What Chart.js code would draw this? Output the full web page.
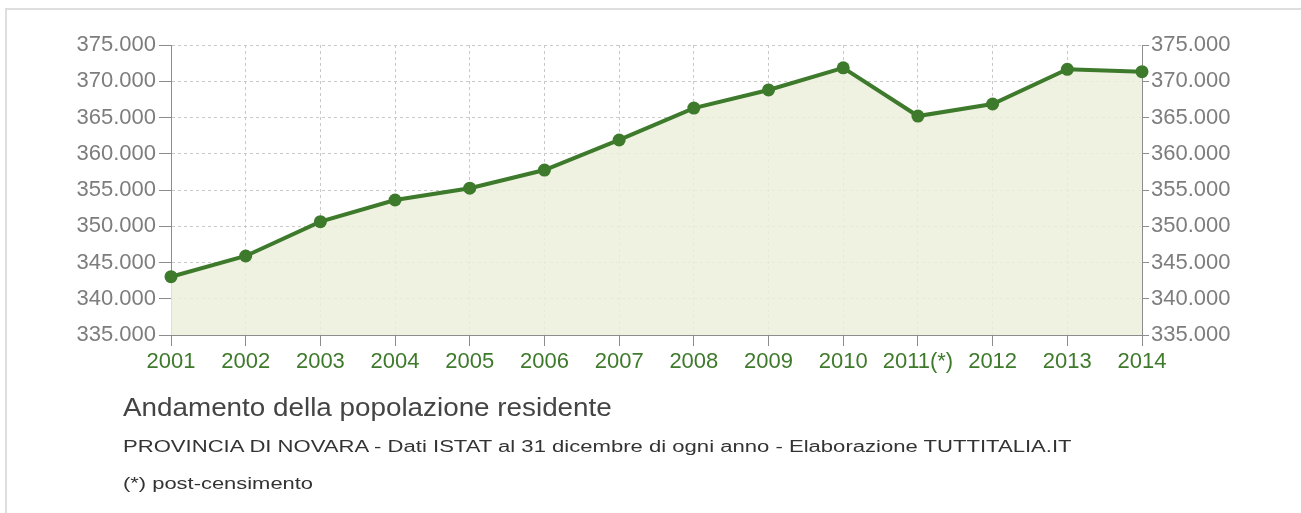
<!DOCTYPE html>
<html>
<head>
<meta charset="utf-8">
<script src="https://cdn.jsdelivr.net/npm/chart.js@4/dist/chart.umd.min.js"></script>
<style>
  html, body { margin: 0; padding: 0; background: #fff; }
  #wrap { position: relative; width: 1301px; height: 513px; overflow: hidden; font-family: "Liberation Sans", Arial, sans-serif; }
  #frame { position: absolute; left: 5px; top: 8px; right: -10px; bottom: -10px; border-top: 2px solid #dedede; border-left: 2px solid #dedede; }
  canvas { position: absolute; left: 0; top: 0; }
  .txt { position: absolute; left: 123px; white-space: nowrap; line-height: 1; transform-origin: 0 0; }
  #t1 { top: 394px; font-size: 26px; color: #444; transform: scaleX(1.07); }
  #t2 { top: 439px; font-size: 16px; color: #333; transform: scaleX(1.38); }
  #t3 { top: 476px; font-size: 16px; color: #333; transform: scaleX(1.37); }
</style>
</head>
<body>
<div id="wrap">
  <div id="frame"></div>
  <canvas id="c" width="1301" height="513"></canvas>
  <div class="txt" id="t1">Andamento della popolazione residente</div>
  <div class="txt" id="t2">PROVINCIA DI NOVARA - Dati ISTAT al 31 dicembre di ogni anno - Elaborazione TUTTITALIA.IT</div>
  <div class="txt" id="t3">(*) post-censimento</div>
</div>
<script>
const years = ["2001","2002","2003","2004","2005","2006","2007","2008","2009","2010","2011(*)","2012","2013","2014"];
const population = [343040, 345900, 350630, 353620, 355250, 357750, 361900, 366300, 368800, 371850, 365200, 366860, 371650, 371320];
const yMin = 335000;
const yMax = 375000;
const yStep = 5000;

function fmt(v) {
  return String(Math.round(v)).replace(/\B(?=(\d{3})+(?!\d))/g, ".");
}

const green = "#3e7a2b";
const gridColor = "#c9c9c9";
const axisColor = "#8c8c8c";
const labelGray = "#7d7d7d";
const font = { family: "'Liberation Sans', Arial, sans-serif", size: 22 };

new Chart(document.getElementById("c"), {
  type: "line",
  data: {
    labels: years,
    datasets: [{
      data: population,
      borderColor: green,
      backgroundColor: "rgba(236,239,220,0.85)",
      borderWidth: 4,
      pointRadius: 6.5,
      pointBackgroundColor: green,
      pointBorderColor: green,
      pointBorderWidth: 0,
      fill: "start",
      tension: 0,
      clip: false
    }]
  },
  options: {
    responsive: false,
    animation: false,
    events: [],
    layout: { padding: { top: 45, left: 0, right: 0, bottom: 0 } },
    plugins: { legend: { display: false }, tooltip: { enabled: false } },
    scales: {
      x: {
        type: "category",
        offset: false,
        grid: { color: gridColor, lineWidth: 1, borderDash: [3, 3], tickLength: 11, tickColor: axisColor, tickWidth: 1, tickBorderDash: [] },
        border: { display: true, color: axisColor, width: 1, dash: [3, 3] },
        ticks: { color: green, font: font, padding: 3, maxRotation: 0, autoSkip: false },
        afterFit: s => { s.height = 178; }
      },
      y: {
        position: "left",
        min: yMin, max: yMax,
        grid: { color: gridColor, lineWidth: 1, borderDash: [3, 3], tickLength: 12, tickColor: axisColor, tickWidth: 1, tickBorderDash: [] },
        border: { display: true, color: axisColor, width: 1, dash: [3, 3] },
        ticks: { stepSize: yStep, color: labelGray, font: font, padding: 3, callback: v => fmt(v) },
        afterFit: s => { s.width = 171; }
      },
      y2: {
        position: "right",
        min: yMin, max: yMax,
        grid: { drawOnChartArea: false, tickLength: 7, tickColor: axisColor, tickWidth: 1, tickBorderDash: [] },
        border: { display: true, color: axisColor, width: 1, dash: [3, 3] },
        ticks: { stepSize: yStep, color: labelGray, font: font, padding: 2, callback: v => fmt(v) },
        afterFit: s => { s.width = 159; }
      }
    }
  }
});
</script>
</body>
</html>
